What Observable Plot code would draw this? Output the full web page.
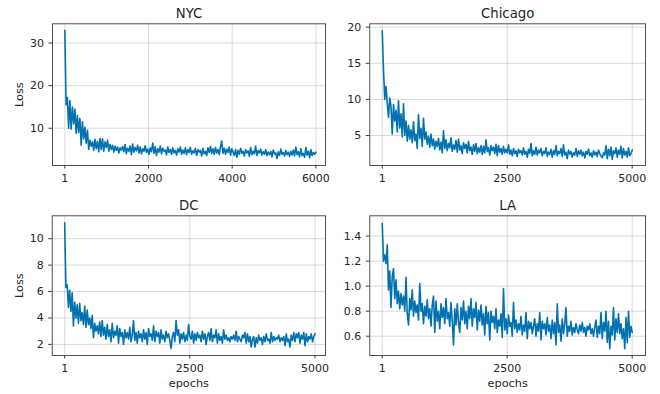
<!DOCTYPE html>
<html>
<head>
<meta charset="utf-8">
<script src="https://cdn.jsdelivr.net/npm/d3@7"></script>
<script src="https://cdn.jsdelivr.net/npm/@observablehq/plot@0.6"></script>
<style>
  html, body { margin: 0; padding: 0; background: #fff; }
  #wrap { position: relative; width: 660px; height: 394px; background: #fff; }
  #wrap > svg { position: absolute; }
</style>
</head>
<body>
<div id="wrap"></div>
<script>
const nycStep = 30;
const nycLoss = [
33.0,15.5,17.2,10.0,16.5,9.8,15.0,11.0,14.5,8.8,
13.0,9.0,12.3,6.0,11.5,7.5,10.2,6.5,9.5,5.0,
7.2,5.8,6.8,4.8,7.4,5.2,6.9,4.5,7.6,5.0,
7.5,4.6,6.8,5.5,7.2,4.6,6.2,5.0,6.0,4.4,
5.8,4.8,5.6,4.2,5.4,4.9,5.7,4.5,6.2,4.0,
5.3,4.6,5.8,3.8,6.3,4.4,5.5,4.7,6.0,4.2,
5.6,4.0,5.2,4.6,5.9,4.3,5.1,3.9,5.4,4.5,
6.5,4.1,5.7,3.6,5.2,4.4,5.8,4.0,5.3,4.6,
4.9,3.8,5.6,4.3,5.0,3.9,5.4,4.2,4.8,3.7,
5.2,4.4,5.6,3.9,4.9,4.1,5.4,3.8,5.0,4.3,
5.5,3.9,4.7,4.2,5.3,3.6,5.0,4.4,4.8,3.5,
5.3,4.0,4.6,3.6,5.4,4.3,5.7,4.1,5.2,3.9,
5.5,4.2,5.0,3.8,5.6,7.0,4.1,5.3,3.9,5.1,
4.3,5.6,3.7,5.2,4.4,3.6,5.0,3.2,4.8,3.9,
5.3,4.1,4.6,3.5,5.0,4.2,4.7,3.4,5.5,3.8,
4.6,4.0,5.8,3.6,4.8,4.2,5.1,3.7,4.5,3.9,
5.0,3.6,4.4,3.8,4.6,3.3,4.9,4.0,4.2,2.9,
4.5,3.6,5.1,3.9,4.3,3.5,4.8,3.8,4.4,3.4,
4.6,3.7,4.9,3.5,5.6,3.8,4.5,3.3,5.2,3.6,
4.1,3.2,5.5,3.7,4.6,3.1,5.0,3.6,4.3,3.9,
4.4
];

const chiStep = 25;
const chiLoss = [
19.5,14.0,10.0,11.8,9.5,7.5,10.2,9.0,5.2,9.3,
7.0,8.5,5.5,9.8,6.0,8.0,4.8,9.4,5.0,7.0,
4.2,6.4,4.5,5.8,4.0,6.9,4.3,5.2,3.2,7.9,
4.6,6.0,3.5,7.4,4.5,5.5,3.8,4.9,3.4,5.2,
3.6,4.5,3.1,4.2,3.5,4.6,3.0,4.1,2.6,5.7,
3.2,4.4,2.9,3.9,3.3,4.7,2.8,3.7,3.1,4.3,
2.7,4.5,3.0,3.6,2.5,4.0,3.2,3.8,2.6,4.2,
2.9,3.4,2.4,3.7,2.8,3.9,2.5,3.3,2.7,3.6,
2.4,3.5,2.6,4.4,2.8,3.3,2.3,3.6,2.9,3.4,
2.5,3.8,2.2,3.6,2.7,3.2,2.4,3.5,2.6,3.1,
2.6,3.7,2.4,3.0,2.2,3.2,2.5,2.9,2.1,3.1,
2.6,2.9,2.3,3.3,2.4,2.8,2.0,3.1,2.5,3.9,
2.2,2.9,2.4,3.4,2.3,3.0,2.6,3.2,2.2,2.8,
2.5,3.3,2.1,2.7,2.4,3.1,2.0,2.9,2.4,3.6,
2.2,2.8,2.5,3.2,2.1,3.7,2.3,2.7,1.8,3.0,
2.4,2.8,2.0,2.6,2.3,3.2,2.1,2.9,2.4,3.0,
2.2,2.7,1.9,2.8,2.4,3.1,2.2,2.6,2.0,2.9,
2.3,2.7,2.1,3.0,2.5,2.2,1.9,2.6,2.3,3.6,
1.8,3.1,2.2,3.4,1.7,2.9,2.5,3.3,2.0,3.0,
2.4,3.5,1.9,3.2,2.3,2.8,2.0,3.3,2.2,2.5,
3.0
];

const dcStep = 25;
const dcLoss = [
11.2,6.3,6.5,4.8,6.1,4.5,5.9,3.4,5.2,4.0,
5.0,3.6,5.1,3.8,4.4,3.5,4.9,3.3,4.6,3.5,
4.0,3.2,4.2,2.5,3.6,3.0,3.4,2.8,3.7,2.6,
3.8,2.7,3.3,2.4,3.5,2.6,3.1,2.2,3.6,2.5,
3.0,2.7,3.4,2.1,3.2,2.6,2.9,2.0,3.1,2.5,
2.9,2.4,3.3,2.2,2.7,3.8,2.3,2.9,2.1,3.0,
2.5,2.8,2.2,3.1,2.4,2.9,2.0,3.2,2.6,2.8,
2.3,3.4,2.2,3.0,2.6,2.9,2.1,3.1,2.4,2.7,
2.2,3.0,2.5,2.8,2.3,1.7,2.6,2.9,2.2,3.8,
2.7,3.1,2.1,2.8,2.4,2.9,2.2,2.7,2.3,3.5,
2.6,2.4,3.0,2.1,2.8,2.3,2.9,2.5,2.7,2.2,
3.0,2.4,2.8,2.0,2.6,2.9,2.3,3.2,2.2,2.7,
2.5,3.1,2.1,2.8,2.3,2.6,2.1,3.1,2.4,2.7,
2.3,2.5,2.2,2.6,2.4,2.7,2.3,3.0,2.2,2.6,
2.4,2.2,2.7,2.5,2.9,2.1,2.8,2.2,2.6,1.8,
2.4,2.6,1.8,2.5,2.1,2.7,2.3,2.5,2.0,2.6,
2.2,2.8,2.3,2.4,2.1,2.9,2.2,2.6,2.3,2.5,
2.4,2.7,2.2,2.5,2.3,2.6,1.9,2.8,2.2,2.4,
1.8,2.7,2.3,2.9,2.2,2.8,2.5,2.9,2.1,2.7,
2.4,2.9,1.9,2.8,2.2,2.6,2.4,2.8,2.2,2.6,
2.8
];

const laStep = 25;
const laLoss = [
1.50,1.20,1.25,1.18,1.33,0.97,1.12,0.83,1.08,1.14,
0.90,1.05,0.86,0.96,0.82,0.94,0.85,0.92,0.80,1.07,
0.78,0.69,0.90,0.81,0.97,0.76,0.88,0.79,0.85,0.73,
1.02,0.80,0.86,0.70,0.84,0.76,0.89,0.74,0.82,0.68,
0.85,0.92,0.63,0.88,0.72,0.80,0.66,0.86,0.75,0.83,
0.70,0.90,0.74,0.79,0.68,0.87,0.72,0.53,0.82,0.69,
0.86,0.71,0.63,0.83,0.73,0.88,0.70,0.80,0.66,0.84,
0.74,0.90,0.68,0.82,0.75,0.87,0.65,0.81,0.72,0.85,
0.69,0.78,0.61,0.84,0.70,0.79,0.57,0.80,0.71,0.76,
0.66,0.82,0.63,0.73,0.68,0.78,0.59,0.98,0.65,0.74,
0.62,0.77,0.68,0.71,0.60,0.87,0.66,0.73,0.63,0.70,
0.65,0.76,0.61,0.69,0.64,0.79,0.58,0.72,0.66,0.71,
0.62,0.68,0.74,0.60,0.70,0.64,0.79,0.57,0.72,0.66,
0.70,0.61,0.75,0.64,0.69,0.58,0.73,0.62,0.71,0.53,
0.86,0.63,0.69,0.56,0.74,0.62,0.70,0.83,0.60,0.68,
0.64,0.72,0.61,0.67,0.63,0.70,0.65,0.62,0.69,0.64,
0.71,0.63,0.67,0.60,0.68,0.65,0.70,0.62,0.66,0.60,
0.67,0.73,0.59,0.68,0.62,0.79,0.58,0.71,0.64,0.80,
0.55,0.72,0.50,0.68,0.61,0.83,0.57,0.74,0.63,0.78,
0.62,0.70,0.58,0.66,0.50,0.75,0.55,0.80,0.59,0.68,
0.63
];

// tick values / labels
const nycXTicks = [1, 2000, 4000, 6000];
const nycYTicks = [10, 20, 30];
const chiXTicks = [1, 2500, 5000];
const chiYTicks = [5, 10, 15, 20];
const dcXTicks = [1, 2500, 5000];
const dcYTicks = [2, 4, 6, 8, 10];
const laXTicks = [1, 2500, 5000];
const laYTicks = [0.6, 0.8, 1.0, 1.2, 1.4];

const titles = ["NYC", "Chicago", "DC", "LA"];

// ---- drawing ----
const LINE = "#0072b2";
const FONT = "DejaVu Sans, sans-serif";
const INK = "#262626";

function panel(opts) {
  const data = opts.values.map((v, i) => ({epoch: 1 + i * opts.step, loss: v}));
  const marks = [
    Plot.gridX(opts.xTicks, {stroke: "#b0b0b0", strokeOpacity: 0.6, strokeWidth: 0.8}),
    Plot.gridY(opts.yTicks, {stroke: "#b0b0b0", strokeOpacity: 0.6, strokeWidth: 0.8}),
    Plot.lineY(data, {x: "epoch", y: "loss", stroke: LINE, strokeWidth: 1.6, clip: true}),
    Plot.frame({stroke: "#3d3d3d", strokeWidth: 0.9}),
    Plot.axisX(opts.xTicks, {tickSize: 3.5, tickPadding: 5.5, fontSize: 11, label: null,
      tickFormat: d => String(d), stroke: "#3d3d3d", fill: INK}),
    Plot.axisY(opts.yTicks, {tickSize: 3.5, tickPadding: 5, fontSize: 11, label: null,
      tickFormat: opts.yFormat || (d => String(d)), stroke: "#3d3d3d", fill: INK}),
    Plot.text([opts.title], {frameAnchor: "top", lineAnchor: "middle", dy: -10.5, fontSize: 13.3, fill: INK})
  ];
  if (opts.ylabel) marks.push(Plot.text([opts.ylabel], {frameAnchor: "left", textAnchor: "middle", lineAnchor: "middle",
    dx: -33, rotate: -90, fontSize: 11.3, fill: INK}));
  if (opts.xlabel) marks.push(Plot.text([opts.xlabel], {frameAnchor: "bottom", lineAnchor: "middle",
    dy: 28, fontSize: 11.3, fill: INK}));
  const svg = Plot.plot({
    width: 330, height: 197,
    marginLeft: opts.ml, marginRight: opts.mr, marginTop: opts.mt, marginBottom: opts.mb,
    x: {domain: opts.xDomain},
    y: {domain: opts.yDomain},
    style: {fontFamily: FONT, fontSize: "11px", color: INK, background: "transparent", overflow: "visible"},
    marks
  });
  svg.style.left = opts.left + "px";
  svg.style.top = opts.top + "px";
  document.getElementById("wrap").appendChild(svg);
}

panel({title: titles[0], values: nycLoss, step: nycStep, xTicks: nycXTicks, yTicks: nycYTicks,
  xDomain: [-294, 6230], yDomain: [1.26, 34.5], ml: 52, mr: 5, mt: 23.3, mb: 32, left: 0, top: 0, ylabel: "Loss"});
panel({title: titles[1], values: chiLoss, step: chiStep, xTicks: chiXTicks, yTicks: chiYTicks,
  xDomain: [-248, 5266], yDomain: [0.85, 20.47], ml: 39.3, mr: 15, mt: 23.3, mb: 32, left: 330, top: 0});
panel({title: titles[2], values: dcLoss, step: dcStep, xTicks: dcXTicks, yTicks: dcYTicks,
  xDomain: [-248, 5210], yDomain: [1.16, 11.73], ml: 51.7, mr: 5, mt: 18.3, mb: 39, left: 0, top: 197, ylabel: "Loss", xlabel: "epochs"});
panel({title: titles[3], values: laLoss, step: laStep, xTicks: laXTicks, yTicks: laYTicks,
  xDomain: [-248, 5266], yDomain: [0.446, 1.562], ml: 39.3, mr: 15, mt: 18.3, mb: 39, left: 330, top: 197,
  yFormat: d3.format(".1f"), xlabel: "epochs"});
</script>
</body>
</html>
